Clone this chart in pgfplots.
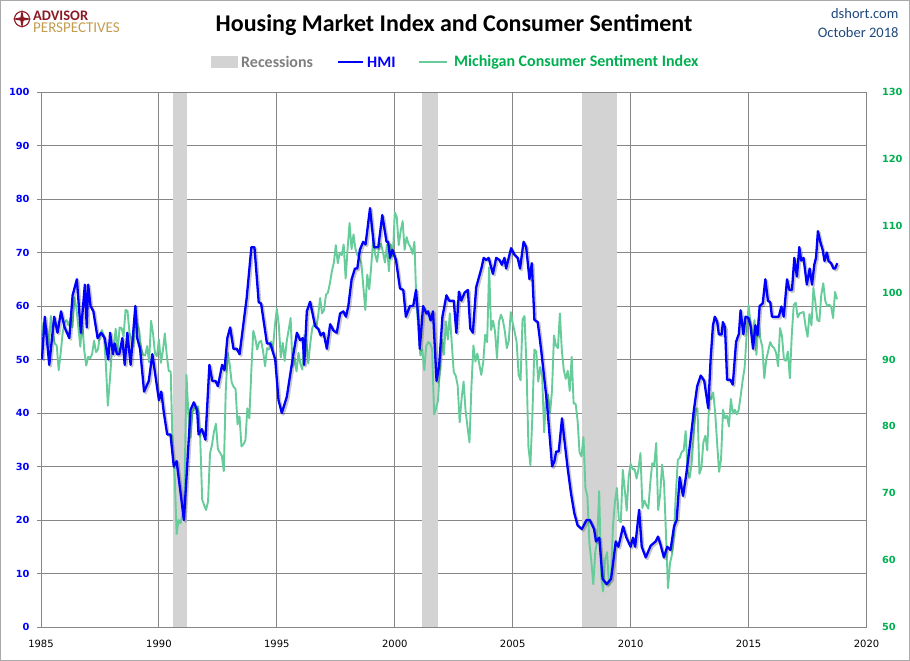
\documentclass[border=0pt]{standalone}
\usepackage{pgfplots}
\pgfplotsset{compat=1.18}
\usepackage{pgfplotstable}
\usepackage{fontspec}
\setmainfont{Carlito}
\newfontfamily\tickfont{DejaVu Sans}
\definecolor{gridgray}{RGB}{134,134,134}
\definecolor{recgray}{RGB}{211,211,211}
\definecolor{hmiblue}{RGB}{0,0,255}
\definecolor{umgreen}{RGB}{102,204,153}
\definecolor{labgreen}{RGB}{0,176,80}
\definecolor{logored}{RGB}{140,26,36}
\definecolor{logogold}{RGB}{196,156,80}
\definecolor{dsblue}{RGB}{31,73,125}
\definecolor{leggray}{RGB}{127,127,127}

\pgfplotstableread{
t v
1985.04 50
1985.16 58
1985.35 49
1985.56 58
1985.70 55
1985.85 59
1986.00 56
1986.20 54
1986.34 62
1986.52 65
1986.69 55
1986.86 64
1986.94 56
1987.00 64
1987.10 60
1987.22 59
1987.40 54
1987.55 55
1987.70 54
1987.85 50
1987.93 55
1988.05 51
1988.12 53
1988.22 51
1988.32 51
1988.45 54
1988.55 49
1988.66 55
1988.80 49
1989.00 60
1989.08 54
1989.20 52
1989.37 44
1989.57 46
1989.72 51
1990.00 42.4
1990.10 44
1990.21 40
1990.35 36
1990.49 36
1990.63 30
1990.75 31
1991.06 20
1991.34 40.6
1991.48 42
1991.62 40.5
1991.68 36
1991.82 37
1991.97 35
1992.14 49
1992.26 46
1992.40 46
1992.50 45
1992.68 49
1992.78 48
1992.90 54
1993.02 56
1993.16 52
1993.30 52
1993.42 51
1993.58 56.6
1993.72 61.5
1993.92 71
1994.05 71
1994.23 60.7
1994.33 60.5
1994.58 53
1994.72 53
1994.93 50
1995.07 42.4
1995.21 40
1995.42 43
1995.70 51
1995.85 55
1995.99 53.6
1996.10 54
1996.16 49
1996.27 59
1996.41 60.8
1996.62 56.3
1996.76 55.7
1996.86 54.5
1996.98 55
1997.12 52
1997.26 56.6
1997.40 55.4
1997.54 55
1997.68 58.6
1997.82 59
1997.93 58
1998.03 60
1998.17 65
1998.31 67
1998.41 67
1998.52 70.5
1998.66 72
1998.76 71.5
1998.95 78.3
1999.12 71
1999.30 71
1999.47 77
1999.65 72
1999.72 72
1999.80 69
1999.90 70.5
2000.05 68.6
2000.22 63.3
2000.36 63
2000.47 58
2000.64 60
2000.78 60
2000.90 63
2001.00 57.5
2001.06 52
2001.20 60
2001.34 58.6
2001.41 59
2001.52 57.3
2001.62 59
2001.77 46
2001.88 48.8
2002.02 58
2002.19 62
2002.30 61
2002.50 61
2002.61 55
2002.72 62.7
2002.82 61
2002.96 62.5
2003.10 63
2003.20 55.8
2003.31 55
2003.45 63.5
2003.67 67
2003.77 69
2003.88 68.6
2003.98 69
2004.16 66
2004.30 69
2004.44 68.6
2004.54 67.7
2004.65 69
2004.72 67
2004.93 70.8
2005.07 69.6
2005.21 69
2005.31 67
2005.46 72
2005.57 71
2005.71 65
2005.81 68
2005.92 57.4
2006.06 57
2006.20 52
2006.45 42
2006.67 30
2006.77 31
2006.84 32.8
2006.95 32.8
2007.09 39
2007.19 35
2007.32 30
2007.47 25
2007.61 21.3
2007.75 19
2007.93 18.3
2008.13 20
2008.27 20
2008.45 18.3
2008.53 16
2008.67 16.7
2008.81 9
2008.98 8
2009.17 9
2009.37 16
2009.48 15
2009.68 18.8
2009.82 16.7
2010.00 15
2010.10 16.7
2010.19 15
2010.36 21.9
2010.47 15
2010.64 13
2010.85 15.2
2011.06 16
2011.16 16.9
2011.26 15.5
2011.41 13
2011.55 15
2011.69 14.4
2011.84 18.8
2011.95 20
2012.08 28
2012.22 24.5
2012.36 28.6
2012.54 35
2012.68 40.5
2012.82 45
2012.97 47
2013.12 46
2013.29 40.9
2013.39 50
2013.49 56.4
2013.57 58
2013.67 57
2013.74 54.7
2013.86 54.7
2013.91 57
2014.00 56
2014.09 46.2
2014.23 46.2
2014.33 45.3
2014.47 53.3
2014.59 54.8
2014.66 59.2
2014.78 54.7
2014.87 58
2014.99 57.8
2015.08 56.4
2015.19 52
2015.29 56.4
2015.38 54.5
2015.47 60
2015.60 60.5
2015.71 65
2015.82 61
2015.92 60.7
2015.99 58
2016.11 58
2016.28 58
2016.39 59.9
2016.49 58
2016.63 65
2016.73 63
2016.84 63
2016.94 69
2017.05 65.5
2017.15 71
2017.23 68.5
2017.33 69
2017.47 64
2017.59 67
2017.69 64
2017.79 67.8
2017.86 69
2017.94 74
2018.04 72
2018.14 70.5
2018.22 68.4
2018.32 70
2018.39 68.4
2018.50 68
2018.60 67
2018.67 67
2018.76 68
}\hmi

\pgfplotstableread[row sep=\\, header=false]{
96.0\\93.7\\93.7\\94.6\\91.8\\96.5\\94.0\\92.4\\92.1\\88.4\\90.9\\93.9\\
95.6\\95.9\\95.1\\96.2\\94.8\\99.3\\97.7\\94.9\\91.9\\95.6\\91.4\\89.1\\
90.4\\90.2\\90.8\\92.8\\91.1\\91.5\\93.7\\94.4\\93.6\\89.3\\83.1\\86.8\\
90.8\\91.6\\94.6\\91.2\\94.8\\94.7\\93.4\\97.4\\97.3\\94.1\\93.0\\91.9\\
97.9\\95.4\\94.3\\91.5\\90.7\\90.6\\92.0\\89.6\\95.8\\93.9\\90.9\\90.5\\
93.0\\89.5\\91.3\\93.9\\90.6\\88.3\\88.2\\76.4\\72.8\\63.9\\66.0\\65.5\\
66.8\\70.4\\87.7\\81.8\\78.3\\82.1\\82.9\\82.0\\83.0\\78.3\\69.1\\68.2\\
67.5\\68.8\\76.0\\77.2\\79.2\\80.4\\76.6\\76.1\\75.6\\73.3\\85.3\\91.0\\
89.3\\86.6\\85.9\\85.6\\80.3\\81.5\\77.0\\77.3\\77.9\\82.7\\81.2\\88.2\\
94.3\\93.2\\91.5\\92.6\\92.8\\91.2\\89.0\\91.7\\91.5\\92.7\\91.6\\95.1\\
97.6\\95.1\\90.3\\92.5\\89.8\\92.7\\94.4\\96.2\\88.9\\90.2\\88.2\\91.0\\
89.3\\88.5\\93.7\\92.7\\89.4\\92.4\\94.7\\95.3\\94.7\\96.5\\99.2\\96.9\\
97.4\\99.7\\100.0\\101.4\\103.2\\104.5\\107.1\\104.4\\106.0\\105.6\\107.2\\102.1\\
106.6\\110.4\\106.5\\108.7\\106.5\\105.6\\105.2\\104.4\\100.9\\97.4\\102.7\\100.5\\
103.9\\108.1\\105.7\\104.6\\106.8\\107.3\\106.0\\104.5\\107.2\\103.2\\107.2\\105.4\\
112.0\\111.3\\107.1\\109.2\\110.7\\106.4\\108.3\\107.3\\106.8\\105.8\\107.6\\98.4\\
94.7\\90.6\\91.5\\88.4\\92.0\\92.6\\92.4\\91.5\\81.8\\82.7\\83.9\\88.8\\
93.0\\90.7\\95.7\\93.0\\96.9\\92.4\\88.1\\87.6\\86.1\\80.6\\84.2\\86.7\\
82.4\\79.9\\77.6\\86.0\\92.1\\89.7\\90.9\\89.3\\87.7\\89.6\\93.7\\92.6\\
103.8\\94.4\\95.8\\94.2\\90.2\\95.6\\96.7\\95.9\\94.2\\91.7\\92.8\\97.1\\
95.5\\94.1\\92.6\\87.7\\86.9\\96.0\\96.5\\89.1\\76.9\\74.2\\81.6\\91.5\\
91.2\\86.7\\88.9\\87.4\\79.1\\84.9\\84.7\\82.0\\85.4\\93.6\\92.1\\91.7\\
96.9\\91.3\\88.4\\87.1\\88.3\\85.3\\90.4\\83.4\\83.4\\80.9\\76.1\\75.5\\
78.4\\70.8\\69.5\\62.6\\59.8\\56.4\\61.2\\63.0\\70.3\\57.6\\55.3\\60.1\\
61.2\\56.3\\57.3\\65.1\\68.7\\70.8\\66.0\\65.7\\73.5\\70.6\\67.4\\72.5\\
74.4\\73.6\\73.6\\72.2\\73.6\\76.0\\67.8\\68.9\\68.2\\67.7\\71.6\\74.5\\
74.2\\77.5\\67.5\\69.8\\74.3\\71.5\\63.7\\55.8\\59.5\\60.8\\63.7\\69.9\\
75.0\\75.3\\76.2\\76.4\\79.3\\73.2\\72.3\\74.3\\78.3\\82.6\\82.7\\72.9\\
73.8\\77.6\\78.6\\76.4\\84.5\\84.1\\85.1\\82.1\\77.5\\73.2\\75.1\\82.5\\
81.2\\81.6\\80.0\\84.1\\81.9\\82.5\\81.8\\82.5\\84.6\\86.9\\88.8\\93.6\\
98.1\\95.4\\93.0\\95.9\\90.7\\96.1\\93.1\\91.9\\87.2\\90.0\\91.3\\92.6\\
92.0\\91.7\\91.0\\89.0\\94.7\\93.5\\90.0\\89.8\\91.2\\87.2\\93.8\\98.2\\
98.5\\96.3\\96.9\\97.0\\97.1\\95.0\\93.4\\96.8\\95.1\\100.7\\98.5\\95.9\\
95.7\\99.7\\101.4\\98.8\\98.0\\98.2\\97.9\\96.2\\100.1\\99.0\\
}\umich

\pgfplotsset{
  base/.style={
    anchor=south west, scale only axis,
    width=825.5pt, height=535pt,
    xmin=1985, xmax=2020,
    /pgf/number format/assume math mode=true,
    /pgf/number format/1000 sep={},
  }
}

\begin{document}
\begin{tikzpicture}[x=1pt,y=1pt]
\path[use as bounding box] (0pt,0pt) rectangle (910pt,-661pt);
\draw[color=gridgray!70, line width=1pt] (0.5pt,-0.5pt) rectangle (909.5pt,-660.5pt);

% grid, recessions, left axis
\begin{axis}[base, at={(41pt,-627pt)},
  ymin=0, ymax=100,
  xtick={1985,1990,...,2020}, ytick={0,10,...,100},
  grid=major, major grid style={color=gridgray, line width=1pt},
  axis line style={color=gridgray, line width=1pt},
  xtick style={draw=none},
  ytick style={color=gridgray, line width=1pt},
  axis y line*=left, axis x line*=bottom,
  tick align=outside, major tick length=4pt,
  yticklabel style={font=\tickfont\bfseries\fontsize{9.8}{10}\selectfont, text=hmiblue, xshift=-4pt},
  xticklabel style={font=\tickfont\fontsize{10}{11}\selectfont, text=black, yshift=-6pt},
]
\addplot[fill=recgray, draw=none] coordinates {(1990.58,0) (1991.17,0) (1991.17,100) (1990.58,100)} -- cycle;
\addplot[fill=recgray, draw=none] coordinates {(2001.17,0) (2001.83,0) (2001.83,100) (2001.17,100)} -- cycle;
\addplot[fill=recgray, draw=none] coordinates {(2007.92,0) (2009.42,0) (2009.42,100) (2007.92,100)} -- cycle;
\end{axis}
\draw[color=gridgray, line width=1pt] (866.5pt,-92pt) -- (866.5pt,-627pt);
\draw[color=gridgray, line width=1pt] (41pt,-92pt) -- (866.5pt,-92pt);

% right axis: Michigan sentiment
\begin{axis}[base, at={(41pt,-627pt)},
  ymin=50, ymax=130, ytick={50,60,...,130},
  axis x line=none, axis y line*=right,
  y axis line style={draw=none},
  ytick style={draw=none},
  yticklabel style={font=\tickfont\bfseries\fontsize{9.8}{10}\selectfont, text=labgreen, xshift=12pt},
]
\addplot[color=umgreen, line width=1.9pt, line join=round] table[x expr=1985+\coordindex/12, y index=0] {\umich};
\end{axis}

% shadow of HMI
\begin{axis}[base, at={(42.5pt,-628.5pt)}, ymin=0, ymax=100, hide axis]
\addplot[color=black, opacity=0.22, line width=2.6pt, line join=round] table[x=t, y=v] {\hmi};
\end{axis}
% HMI
\begin{axis}[base, at={(41pt,-627pt)}, ymin=0, ymax=100, hide axis]
\addplot[color=hmiblue, line width=2.3pt, line join=round] table[x=t, y=v] {\hmi};
\end{axis}

% title
\node[font=\bfseries\fontsize{24}{28}\selectfont, text=black] at (454pt,-25pt) {Housing Market Index and Consumer Sentiment};
\node[anchor=east, font=\fontsize{14.5}{16}\selectfont, text=dsblue] at (902pt,-14pt) {dshort.com};
\node[anchor=east, font=\fontsize{14.5}{16}\selectfont, text=dsblue] at (902pt,-33pt) {October 2018};

% logo
\draw[logored, line width=1.1pt] (22pt,-19pt) circle (7.5pt);
\fill[logored] (22pt,-9.5pt) -- (23.6pt,-17.4pt) -- (31.5pt,-19pt) -- (23.6pt,-20.6pt) -- (22pt,-28.5pt) -- (20.4pt,-20.6pt) -- (12.5pt,-19pt) -- (20.4pt,-17.4pt) -- cycle;
\node[anchor=base west, inner sep=0, text height=9pt, text depth=0pt, font=\bfseries\fontsize{14.5}{14.5}\selectfont, text=logored] at (33pt,-20.5pt) {ADVISOR};
\node[anchor=base west, inner sep=0, text height=9pt, text depth=0pt, font=\fontsize{15}{15}\selectfont, text=logogold] at (33pt,-33pt) {PERSPECTIVES};

% legend
\fill[recgray] (211pt,-56pt) rectangle (238pt,-68pt);
\node[anchor=west, inner sep=0, font=\bfseries\fontsize{16}{18}\selectfont, text=leggray] at (241pt,-62pt) {Recessions};
\draw[hmiblue, line width=2.3pt] (338pt,-62pt) -- (363pt,-62pt);
\node[anchor=west, inner sep=0, font=\bfseries\fontsize{16}{18}\selectfont, text=hmiblue] at (367pt,-62pt) {HMI};
\draw[umgreen, line width=2.3pt] (419pt,-62pt) -- (447pt,-62pt);
\node[anchor=west, inner sep=0, font=\bfseries\fontsize{16}{18}\selectfont, text=labgreen] at (454pt,-62pt) {Michigan Consumer Sentiment Index};
\end{tikzpicture}
\end{document}
